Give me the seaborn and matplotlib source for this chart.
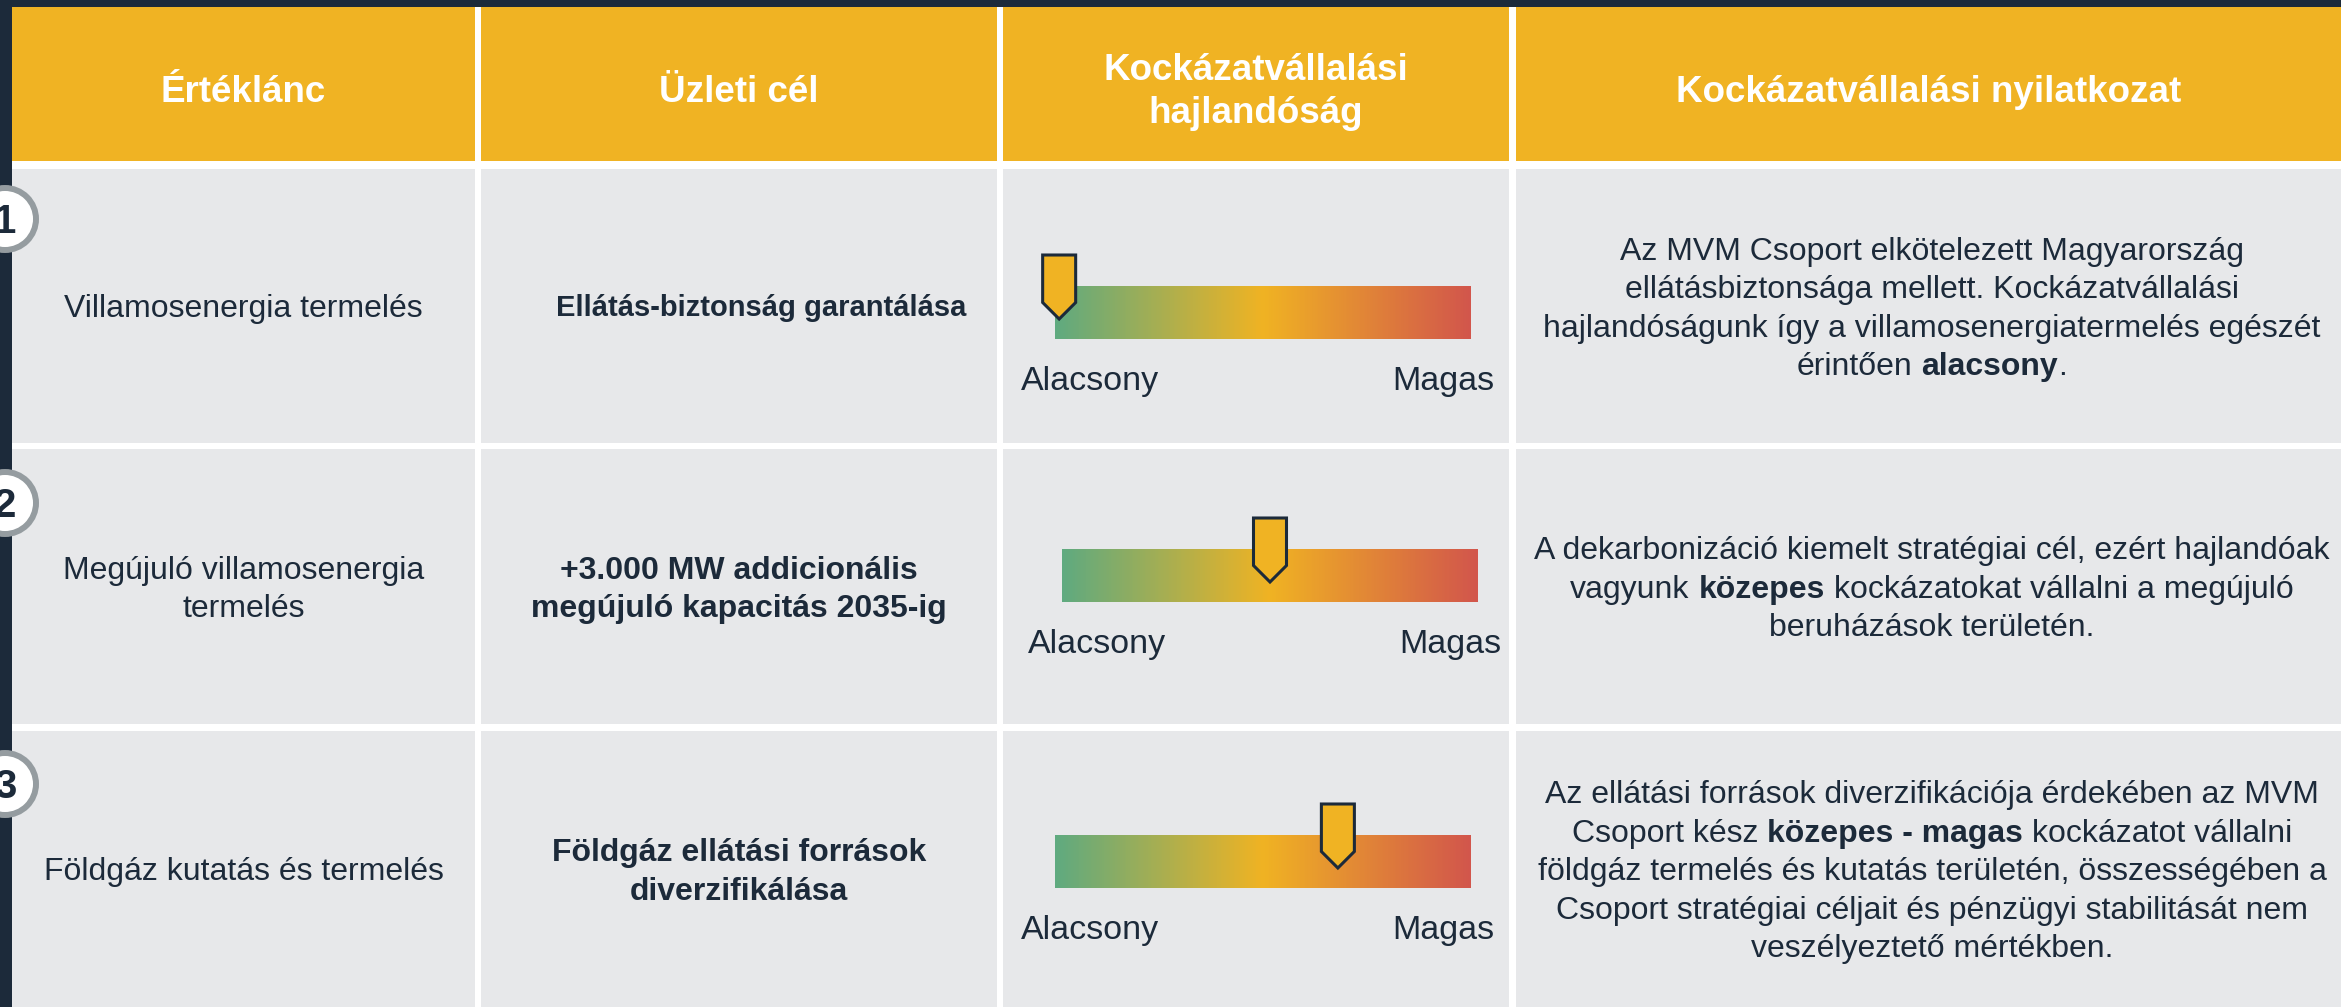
import numpy as np
import pandas as pd
import seaborn as sns
import matplotlib
matplotlib.use("Agg")
import matplotlib.pyplot as plt
from matplotlib.patches import Rectangle, Circle, Polygon

# ---------------- data ----------------
headers = ["Értéklánc", "Üzleti cél", "Kockázatvállalási\nhajlandóság",
           "Kockázatvállalási nyilatkozat"]
row_numbers = ["1", "2", "3"]
value_chain = ["Villamosenergia termelés",
               "Megújuló villamosenergia\ntermelés",
               "Földgáz kutatás és termelés"]
business_goals = ["Ellátás-biztonság garantálása",
                  "+3.000 MW addicionális\nmegújuló kapacitás 2035-ig",
                  "Földgáz ellátási források\ndiverzifikálása"]
appetite_values = [0.01, 0.50, 0.68]   # 0 = Alacsony ... 1 = Magas
scale_labels = ["Alacsony", "Magas"]
statements = [
    "Az MVM Csoport elkötelezett Magyarország\n"
    "ellátásbiztonsága mellett. Kockázatvállalási\n"
    "hajlandóságunk így a villamosenergiatermelés egészét\n"
    "érintően **alacsony**.",
    "A dekarbonizáció kiemelt stratégiai cél, ezért hajlandóak\n"
    "vagyunk **közepes** kockázatokat vállalni a megújuló\n"
    "beruházások területén.",
    "Az ellátási források diverzifikációja érdekében az MVM\n"
    "Csoport kész **közepes - magas** kockázatot vállalni\n"
    "földgáz termelés és kutatás területén, összességében a\n"
    "Csoport stratégiai céljait és pénzügyi stabilitását nem\n"
    "veszélyeztető mértékben.",
]
gradient_colors = ["#5faa80", "#f0b323", "#d2564c"]

# ---------------- style ----------------
sns.set_theme(style="white")
plt.rcParams["font.family"] = ["Liberation Sans", "DejaVu Sans"]

DARK = "#1c2a3a"
YELLOW = "#f0b323"
GRAY = "#e7e8ea"
RING = "#959ca0"

W, H = 2341, 1007
DPI = 100
COLS = [(12, 475), (481, 997), (1003, 1509), (1516, 2341)]
HEADER = (7, 161)
ROWS = [(169, 443), (449, 724), (731, 1007)]
BAR_TOP_OFF = [117, 100, 104]
BAR_X_SHIFT = [0, 7, 0]
BAR_X = (1055, 1471)
BAR_H = 53
CIRCLE_DY = [50, 54, 53]
GOAL_SIZE = [21, 23, 23]
GOAL_X = [761, 739, 739]

BODY = 23
HEAD = 26.5
LABEL = 24.5
NUM = 29
LINE_H = 38.5
HEAD_LINE_H = 43

fig = plt.figure(figsize=(W / DPI, H / DPI), dpi=DPI, facecolor="white")
ax = fig.add_axes([0, 0, 1, 1])
ax.set_facecolor("white")
renderer = fig.canvas.get_renderer()


def em(size):
    return size * DPI / 72.0


def measure(s, size, weight):
    t = ax.text(0, 0, s, fontsize=size, fontweight=weight)
    w = t.get_window_extent(renderer=renderer).width
    t.remove()
    return w


_bar_cache = {}


def seg_width(s, size, weight):
    key = (size, weight)
    if key not in _bar_cache:
        _bar_cache[key] = measure("||", size, weight)
    return measure("|" + s + "|", size, weight) - _bar_cache[key]


def draw_line(xc, cap_center, line, size, color, base_weight="normal", ha="center"):
    parts = line.split("**")
    segs = []
    for i, p in enumerate(parts):
        if not p:
            continue
        weight = "bold" if i % 2 == 1 else base_weight
        segs.append((p, weight))
    items = []
    total = 0.0
    for p, weight in segs:
        stripped = p.strip(" ")
        lead = len(p) - len(p.lstrip(" "))
        trail = len(p) - len(p.rstrip(" "))
        lw = seg_width(" " * lead, size, weight) if lead else 0.0
        tw = seg_width(" " * trail, size, weight) if trail else 0.0
        sw = seg_width(stripped, size, weight) if stripped else 0.0
        items.append((stripped, weight, lw, sw, tw))
        total += lw + sw + tw
    if ha == "center":
        x = xc - total / 2.0
    elif ha == "right":
        x = xc - total
    else:
        x = xc
    baseline = cap_center + 0.358 * em(size)
    for stripped, weight, lw, sw, tw in items:
        x += lw
        if stripped:
            ax.text(x, baseline, stripped, fontsize=size, fontweight=weight,
                    color=color, ha="left", va="baseline")
        x += sw + tw


def draw_block(xc, yc, text, size, color, weight="normal", line_h=LINE_H):
    lines = text.split("\n")
    n = len(lines)
    for i, ln in enumerate(lines):
        cy = yc + (i - (n - 1) / 2.0) * line_h
        draw_line(xc, cy, ln, size, color, base_weight=weight)


# frame
ax.add_patch(Rectangle((0, 0), W, 7, fc=DARK, ec="none"))
ax.add_patch(Rectangle((0, 0), 12, H, fc=DARK, ec="none"))

# header
for (x0, x1), h in zip(COLS, headers):
    ax.add_patch(Rectangle((x0, HEADER[0]), x1 - x0, HEADER[1] - HEADER[0],
                           fc=YELLOW, ec="none"))
    draw_block((x0 + x1) / 2.0, 88.5, h, HEAD, "white", weight="bold",
               line_h=HEAD_LINE_H)

cmap = sns.blend_palette(gradient_colors, n_colors=1024, as_cmap=True)
grad = np.linspace(0, 1, 2048)[None, :]

for r, (y0, y1) in enumerate(ROWS):
    for (x0, x1) in COLS:
        ax.add_patch(Rectangle((x0, y0), x1 - x0, y1 - y0, fc=GRAY, ec="none"))
    yc = (y0 + y1) / 2.0
    # column 1 & 2
    draw_block((COLS[0][0] + COLS[0][1]) / 2.0, yc, value_chain[r], BODY, DARK)
    draw_block(GOAL_X[r], yc, business_goals[r], GOAL_SIZE[r], DARK,
               weight="bold")
    # column 3 gradient scale
    bx0 = BAR_X[0] + BAR_X_SHIFT[r]
    bx1 = BAR_X[1] + BAR_X_SHIFT[r]
    bt = y0 + BAR_TOP_OFF[r]
    bb = bt + BAR_H
    ax.imshow(grad, extent=(bx0, bx1, bb, bt), cmap=cmap, aspect="auto",
              interpolation="nearest", zorder=2)
    cx = bx0 + appetite_values[r] * (bx1 - bx0)
    top = bt - 31
    tip = bt + 33
    hw = 16.5
    ax.add_patch(Polygon([(cx - hw, top), (cx + hw, top), (cx + hw, tip - hw),
                          (cx, tip), (cx - hw, tip - hw)], closed=True,
                         fc=YELLOW, ec=DARK, lw=2.2, joinstyle="miter", zorder=3))
    lab_cap = bb + 51 - 0.358 * em(LABEL)
    draw_line(bx0 - 34, lab_cap, scale_labels[0], LABEL, DARK, ha="left")
    draw_line(bx1 + 23, lab_cap, scale_labels[1], LABEL, DARK, ha="right")
    # column 4 statement
    draw_block(1932, yc, statements[r], BODY, DARK)
    # number circle
    ccy = y0 + CIRCLE_DY[r]
    ax.add_patch(Circle((5, ccy), 31, fc="white", ec=RING, lw=4.3, zorder=4))
    ax.text(5, ccy + 0.358 * em(NUM), row_numbers[r], fontsize=NUM,
            fontweight="bold", color=DARK, ha="center", va="baseline", zorder=5)

ax.set_xlim(0, W)
ax.set_ylim(H, 0)
ax.axis("off")

fig.savefig("out.png", dpi=DPI, facecolor="white")
